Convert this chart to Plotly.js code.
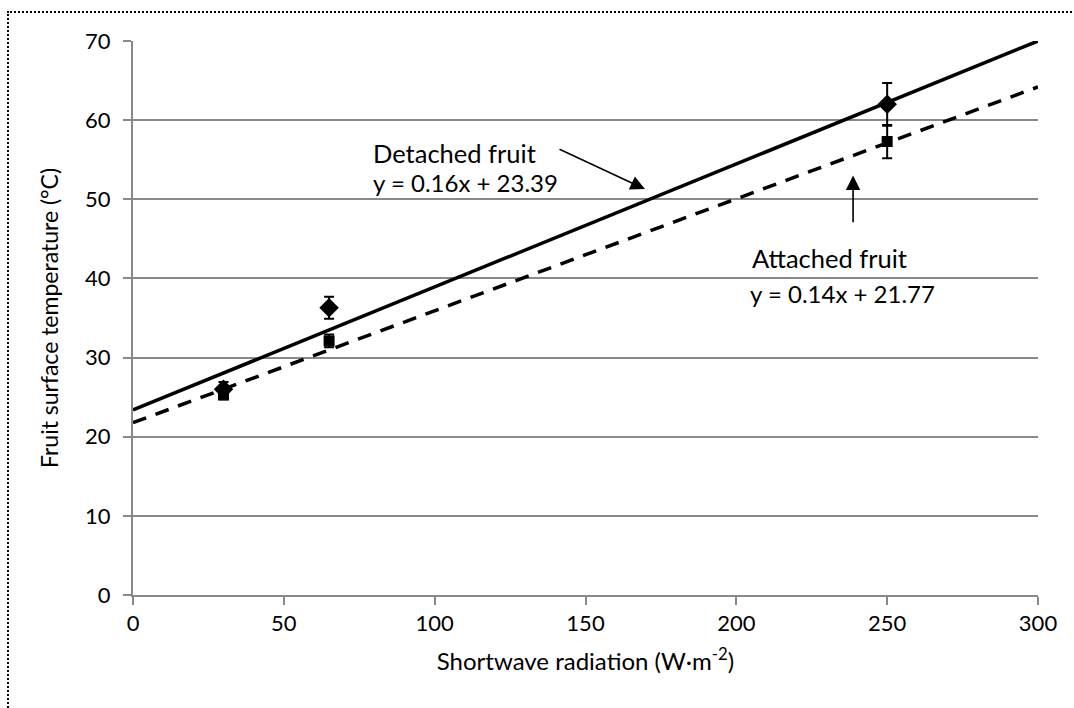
<!DOCTYPE html>
<html>
<head>
<meta charset="utf-8">
<script src="https://cdn.plot.ly/plotly-3.0.1.min.js"></script>
<style>
html,body{margin:0;padding:0;background:#fff;overflow:hidden;}
#chart{position:absolute;left:0;top:0;width:1074px;height:708px;}
#frame{position:absolute;left:7px;top:11px;width:1100px;height:740px;border:2px dotted #000;pointer-events:none;box-sizing:border-box;}
</style>
</head>
<body>
<div id="chart"></div>
<div id="frame"></div>
<script>
// Measured data
const radiation = [30, 65, 250];
const detachedTemp = [26.0, 36.3, 62.0];
const detachedErr = [0.9, 1.4, 2.7];
const attachedTemp = [25.3, 32.1, 57.3];
const attachedErr = [0.6, 0.8, 2.1];
// Trendline endpoints as drawn
const trendX = [0, 300];
const detachedTrend = [23.39, 70.0];
const attachedTrend = [21.77, 64.2];
const xTicks = [0, 50, 100, 150, 200, 250, 300];
const yTicks = [0, 10, 20, 30, 40, 50, 60, 70];

const FONT = 'Lato, "Open Sans", sans-serif';

const traces = [
  {x: trendX, y: detachedTrend, mode: 'lines', line: {color: '#000', width: 3.5}, hoverinfo: 'skip'},
  {x: trendX, y: attachedTrend, mode: 'lines', line: {color: '#000', width: 3.5, dash: '14px,10px'}, hoverinfo: 'skip'},
  {x: radiation, y: attachedTemp, mode: 'markers', marker: {symbol: 'square', size: 11, color: '#000'},
   error_y: {type: 'data', array: attachedErr, visible: true, color: '#000', thickness: 2, width: 5}},
  {x: radiation, y: detachedTemp, mode: 'markers', marker: {symbol: 'diamond', size: 15, color: '#000'},
   error_y: {type: 'data', array: detachedErr, visible: true, color: '#000', thickness: 2, width: 5}}
];

const layout = {
  width: 1074, height: 708,
  margin: {l: 133, r: 36, t: 41, b: 113},
  paper_bgcolor: '#fff', plot_bgcolor: '#fff',
  showlegend: false,
  font: {family: FONT, color: '#000', size: 22},
  xaxis: {
    range: [0, 300], tickvals: xTicks, ticktext: xTicks.map(String),
    showgrid: false, zeroline: false, showline: true, linecolor: '#898989', linewidth: 2,
    ticks: 'outside', ticklen: 8, tickwidth: 2, tickcolor: '#898989',
    tickfont: {family: FONT, size: 22, color: '#000'},
    title: {text: 'Shortwave radiation (W·m<sup>-2</sup>)', font: {family: FONT, size: 24, color: '#000'}, standoff: 18}
  },
  yaxis: {
    range: [0, 70], tickvals: yTicks, ticktext: yTicks.map(String),
    showgrid: true, gridcolor: '#898989', gridwidth: 2, zeroline: false,
    showline: true, linecolor: '#898989', linewidth: 2,
    ticks: 'outside', ticklen: 8, tickwidth: 2, tickcolor: '#898989',
    ticklabelstandoff: 8,
    tickfont: {family: FONT, size: 22, color: '#000'},
    title: {text: 'Fruit surface temperature (°C)', font: {family: FONT, size: 23, color: '#000'}, standoff: 20}
  },
  annotations: [
    {x: 169.7, y: 51.3, ax: 140.9, ay: 56.4, xref: 'x', yref: 'y', axref: 'x', ayref: 'y',
     text: '', showarrow: true, arrowhead: 2, arrowsize: 1.8, arrowwidth: 1.6, arrowcolor: '#000'},
    {x: 238.7, y: 53.0, ax: 238.7, ay: 46.9, xref: 'x', yref: 'y', axref: 'x', ayref: 'y',
     text: '', showarrow: true, arrowhead: 2, arrowsize: 1.8, arrowwidth: 1.6, arrowcolor: '#000'},
    {x: 78.9, y: 55.9, xref: 'x', yref: 'y', xanchor: 'left', yanchor: 'middle', showarrow: false,
     text: 'Detached fruit', font: {family: FONT, size: 25.5, color: '#000'}},
    {x: 78.9, y: 52.1, xref: 'x', yref: 'y', xanchor: 'left', yanchor: 'middle', showarrow: false,
     text: 'y = 0.16x + 23.39', font: {family: FONT, size: 24, color: '#000'}},
    {x: 204.5, y: 42.6, xref: 'x', yref: 'y', xanchor: 'left', yanchor: 'middle', showarrow: false,
     text: 'Attached fruit', font: {family: FONT, size: 25.5, color: '#000'}},
    {x: 203.9, y: 38.1, xref: 'x', yref: 'y', xanchor: 'left', yanchor: 'middle', showarrow: false,
     text: 'y = 0.14x + 21.77', font: {family: FONT, size: 24, color: '#000'}}
  ]
};

Plotly.newPlot('chart', traces, layout, {displayModeBar: false, staticPlot: true});
</script>
</body>
</html>
